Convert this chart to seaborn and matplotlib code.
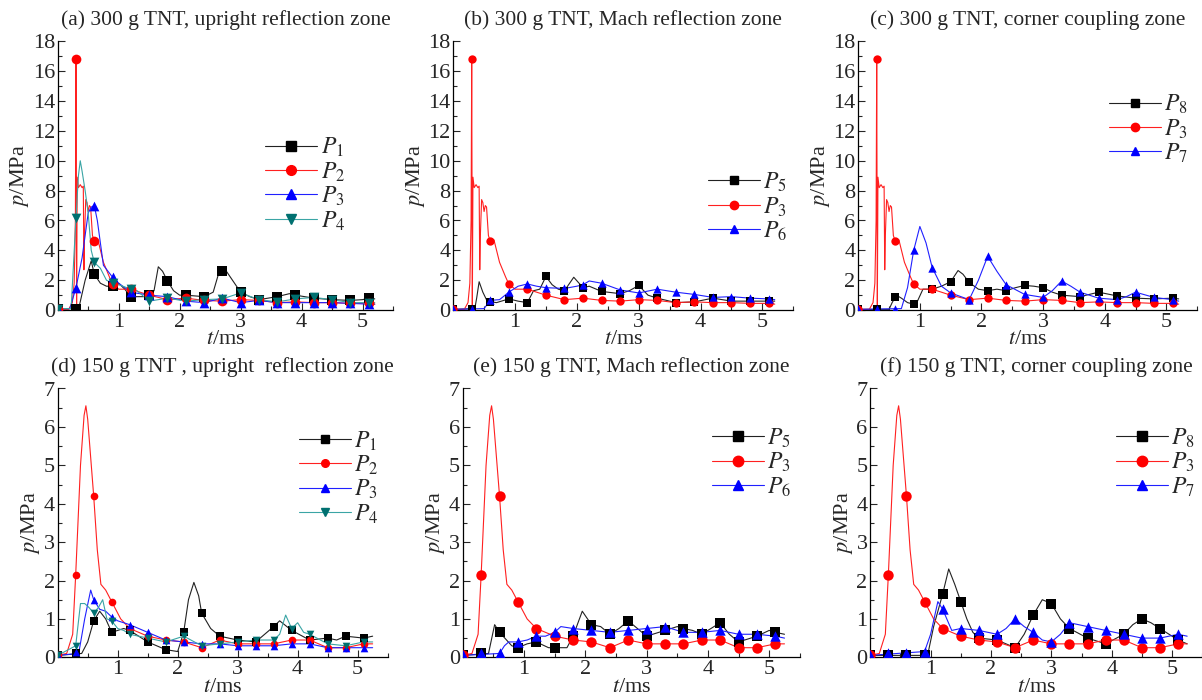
import matplotlib
matplotlib.use("Agg")

import seaborn as sns
import matplotlib.pyplot as plt
from matplotlib.lines import Line2D
from matplotlib.ticker import MultipleLocator


# =========================
# Data
# =========================

# marker times, ms
t_mark = [0.0, 0.3, 0.6, 0.9, 1.2, 1.5, 1.8, 2.1, 2.4, 2.7, 3.0, 3.3, 3.6, 3.9, 4.2, 4.5, 4.8, 5.1]

# ---- 300 g TNT ----
# red gauge (P2 in a, P3 in b/c)
red300_t = [0, 0.18, 0.24, 0.27, 0.29, 0.30, 0.31, 0.32, 0.34, 0.37, 0.40, 0.42, 0.43, 0.44, 0.46, 0.48,
            0.50, 0.52, 0.54, 0.57, 0.60, 0.66, 0.75, 0.85, 0.9, 1.0, 1.2, 1.5, 1.8, 2.1, 2.4, 2.7, 3.0,
            3.3, 3.6, 3.9, 4.2, 4.5, 4.8, 5.1, 5.2]
red300_p = [0.05, 0.05, 0.5, 1.8, 6.0, 16.8, 0.2, 8.9, 8.2, 8.4, 8.2, 8.3, 2.7, 5.0, 7.4, 7.2,
            6.6, 7.0, 6.9, 5.0, 4.6, 4.7, 3.2, 2.2, 1.75, 1.4, 1.4, 1.0, 0.7, 0.8, 0.65, 0.6, 0.7,
            0.65, 0.5, 0.55, 0.5, 0.5, 0.45, 0.45, 0.4]
red300_m = [0.05, 16.8, 4.6, 1.75, 1.4, 1.0, 0.7, 0.8, 0.65, 0.6, 0.7, 0.65, 0.5, 0.55, 0.5, 0.5, 0.45, 0.45]

a_p1_t = [0, 0.3, 0.35, 0.45, 0.55, 0.6, 0.7, 0.8, 0.9, 1.0, 1.1, 1.2, 1.4, 1.5, 1.58, 1.65, 1.72, 1.8,
          1.9, 2.0, 2.1, 2.4, 2.55, 2.65, 2.75, 2.9, 3.0, 3.15, 3.3, 3.6, 3.8, 3.9, 4.2, 4.5, 4.8, 5.0, 5.1, 5.2]
a_p1_p = [0.1, 0.1, 0.2, 2.0, 3.3, 2.4, 1.8, 1.6, 1.6, 1.8, 1.4, 0.9, 0.9, 1.0, 1.3, 2.9, 2.6, 1.95,
          1.3, 1.0, 1.0, 0.9, 1.2, 2.6, 2.7, 1.8, 1.2, 0.9, 0.7, 0.9, 1.1, 1.0, 0.8, 0.7, 0.65, 0.7, 0.8, 0.75]
a_p1_m = [0.1, 0.1, 2.4, 1.6, 0.9, 1.0, 1.95, 1.0, 0.9, 2.65, 1.2, 0.7, 0.9, 1.0, 0.8, 0.7, 0.65, 0.8]

a_p3_t = [0, 0.2, 0.3, 0.4, 0.5, 0.55, 0.6, 0.65, 0.75, 0.9, 1.0, 1.2, 1.5, 1.8, 2.1, 2.4, 2.7, 3.0,
          3.3, 3.6, 3.9, 4.2, 4.5, 4.8, 5.1, 5.2]
a_p3_p = [0.1, 0.1, 1.5, 3.5, 6.5, 6.9, 7.0, 6.0, 3.0, 2.2, 1.8, 1.2, 1.0, 0.9, 0.6, 0.5, 0.8, 0.5,
          0.65, 0.5, 0.5, 0.5, 0.5, 0.45, 0.4, 0.4]
a_p3_m = [0.1, 1.5, 7.0, 2.2, 1.2, 1.0, 0.9, 0.6, 0.5, 0.8, 0.5, 0.65, 0.5, 0.5, 0.5, 0.5, 0.45, 0.4]

a_p4_t = [0, 0.22, 0.3, 0.34, 0.37, 0.4, 0.45, 0.5, 0.55, 0.6, 0.7, 0.8, 0.9, 1.0, 1.2, 1.3, 1.5, 1.8,
          2.1, 2.4, 2.7, 3.0, 3.3, 3.6, 3.9, 4.2, 4.5, 4.8, 5.1, 5.2]
a_p4_p = [0.1, 0.1, 6.2, 9.0, 10.0, 9.3, 8.0, 6.5, 4.0, 3.2, 2.8, 2.0, 1.8, 1.7, 1.4, 1.3, 0.6, 0.8,
          0.6, 0.7, 0.75, 1.15, 0.7, 0.55, 0.75, 0.85, 0.7, 0.5, 0.5, 0.5]
a_p4_m = [0.1, 6.2, 3.2, 1.8, 1.4, 0.6, 0.8, 0.6, 0.7, 0.75, 1.15, 0.7, 0.55, 0.75, 0.85, 0.7, 0.5, 0.5]

b_p5_t = [0, 0.35, 0.38, 0.42, 0.48, 0.55, 0.7, 0.9, 1.05, 1.2, 1.3, 1.4, 1.5, 1.6, 1.7, 1.8, 1.95,
          2.1, 2.2, 2.4, 2.7, 2.85, 3.0, 3.15, 3.3, 3.6, 3.9, 4.2, 4.5, 4.8, 5.1, 5.2]
b_p5_p = [0.05, 0.1, 0.8, 1.9, 1.2, 0.6, 0.5, 0.75, 0.6, 0.5, 1.3, 1.4, 2.25, 1.7, 1.4, 1.3, 2.2,
          1.5, 1.6, 1.25, 1.1, 1.3, 1.65, 1.0, 0.8, 0.5, 0.55, 0.8, 0.6, 0.6, 0.6, 0.6]
b_p5_m = [0.05, 0.1, 0.57, 0.75, 0.5, 2.25, 1.3, 1.5, 1.25, 1.1, 1.65, 0.8, 0.5, 0.55, 0.8, 0.6, 0.6, 0.6]

b_p6_t = [0, 0.5, 0.6, 0.75, 0.9, 1.05, 1.2, 1.35, 1.5, 1.8, 2.0, 2.1, 2.2, 2.4, 2.7, 3.0, 3.3, 3.6,
          3.9, 4.2, 4.5, 4.8, 5.1, 5.2]
b_p6_p = [0.05, 0.1, 0.65, 0.7, 1.2, 1.6, 1.75, 1.6, 1.5, 1.45, 1.6, 1.7, 1.95, 1.8, 1.35, 1.15, 1.4, 1.2,
          1.05, 0.85, 0.9, 0.8, 0.75, 0.7]
b_p6_m = [0.05, 0.1, 0.65, 1.2, 1.75, 1.5, 1.45, 1.7, 1.8, 1.35, 1.15, 1.4, 1.2, 1.05, 0.85, 0.9, 0.8, 0.75]

c_p8_t = [0, 0.5, 0.55, 0.62, 0.7, 0.8, 0.9, 0.95, 1.05, 1.2, 1.35, 1.5, 1.62, 1.7, 1.8, 1.95, 2.1,
          2.25, 2.4, 2.55, 2.7, 2.85, 3.0, 3.15, 3.3, 3.6, 3.75, 3.9, 4.2, 4.5, 4.8, 5.1, 5.2]
c_p8_p = [0.05, 0.05, 0.5, 1.0, 0.8, 0.5, 0.4, 0.5, 1.4, 1.4, 1.6, 1.9, 2.65, 2.4, 1.85, 1.4, 1.3,
          1.4, 1.3, 1.5, 1.65, 1.6, 1.5, 1.2, 1.0, 0.9, 1.05, 1.2, 0.95, 0.8, 0.75, 0.8, 0.75]
c_p8_m = [0.05, 0.05, 0.85, 0.4, 1.4, 1.9, 1.85, 1.3, 1.3, 1.65, 1.5, 1.0, 0.9, 1.2, 0.95, 0.8, 0.75, 0.8]

c_p7_t = [0, 0.7, 0.8, 0.9, 1.0, 1.1, 1.2, 1.35, 1.5, 1.8, 1.95, 2.1, 2.25, 2.4, 2.7, 3.0, 3.15, 3.3,
          3.45, 3.6, 3.9, 4.2, 4.35, 4.5, 4.8, 5.1, 5.2]
c_p7_p = [0.05, 0.1, 1.5, 4.0, 5.6, 4.5, 2.85, 1.6, 1.15, 0.7, 2.0, 3.6, 2.6, 1.7, 1.05, 0.85, 1.3, 1.95,
          1.6, 1.2, 0.8, 0.7, 0.9, 1.2, 0.85, 0.7, 0.6]
c_p7_m = [0.05, 0.1, 0.1, 4.0, 2.85, 1.15, 0.7, 3.6, 1.7, 1.05, 0.85, 1.95, 1.2, 0.8, 0.7, 1.2, 0.85, 0.7]

# ---- 150 g TNT ----
# red gauge (P2 in d, P3 in e/f)
red150_t = [0, 0.15, 0.25, 0.3, 0.38, 0.44, 0.47, 0.5, 0.55, 0.6, 0.66, 0.72, 0.8, 0.9, 1.05, 1.2,
            1.5, 1.8, 2.1, 2.4, 2.7, 3.0, 3.3, 3.6, 3.9, 4.2, 4.5, 4.8, 5.1, 5.25]
red150_p = [0.05, 0.1, 0.6, 2.15, 5.0, 6.3, 6.55, 6.2, 5.2, 4.2, 2.8, 1.9, 1.75, 1.45, 1.0, 0.75,
            0.55, 0.45, 0.4, 0.25, 0.45, 0.35, 0.35, 0.35, 0.45, 0.45, 0.25, 0.25, 0.35, 0.35]
red150_m = [0.05, 2.15, 4.2, 1.45, 0.75, 0.55, 0.45, 0.4, 0.25, 0.45, 0.35, 0.35, 0.35, 0.45, 0.45, 0.25, 0.25, 0.35]

d_p1_t = [0, 0.4, 0.5, 0.6, 0.7, 0.8, 0.9, 1.0, 1.1, 1.2, 1.5, 1.8, 2.0, 2.1, 2.18, 2.27, 2.35, 2.4,
          2.55, 2.7, 3.0, 3.3, 3.6, 3.7, 3.9, 4.2, 4.5, 4.65, 4.8, 5.1, 5.25]
d_p1_p = [0.05, 0.1, 0.4, 0.95, 1.2, 1.0, 0.65, 0.7, 0.75, 0.7, 0.4, 0.2, 0.15, 0.65, 1.5, 1.95, 1.6, 1.15,
          0.75, 0.55, 0.45, 0.4, 0.8, 0.95, 0.7, 0.45, 0.5, 0.45, 0.55, 0.5, 0.55]
d_p1_m = [0.05, 0.1, 0.95, 0.65, 0.7, 0.4, 0.2, 0.65, 1.15, 0.55, 0.45, 0.4, 0.8, 0.7, 0.45, 0.5, 0.55, 0.5]

d_p3_t = [0, 0.35, 0.45, 0.55, 0.6, 0.7, 0.8, 0.9, 1.0, 1.2, 1.5, 1.8, 2.1, 2.4, 2.7, 3.0, 3.3, 3.6,
          3.9, 4.2, 4.5, 4.8, 5.1, 5.25]
d_p3_p = [0.05, 0.1, 1.0, 1.75, 1.5, 1.25, 1.2, 1.05, 0.95, 0.85, 0.65, 0.45, 0.4, 0.35, 0.35, 0.3, 0.3, 0.3,
          0.35, 0.35, 0.25, 0.25, 0.25, 0.25]
d_p3_m = [0.05, 0.15, 1.5, 1.05, 0.85, 0.65, 0.45, 0.4, 0.35, 0.35, 0.3, 0.3, 0.3, 0.35, 0.35, 0.25, 0.25, 0.25]

d_p4_t = [0, 0.3, 0.38, 0.45, 0.52, 0.6, 0.68, 0.75, 0.82, 0.9, 1.0, 1.1, 1.2, 1.5, 1.8, 2.1, 2.4, 2.7,
          3.0, 3.3, 3.6, 3.7, 3.8, 3.9, 4.0, 4.1, 4.2, 4.5, 4.8, 5.1, 5.25]
d_p4_p = [0.05, 0.3, 1.4, 1.4, 1.3, 1.15, 1.3, 1.5, 1.0, 0.95, 0.75, 0.7, 0.6, 0.5, 0.4, 0.55, 0.3, 0.35,
          0.4, 0.45, 0.45, 0.6, 1.1, 0.75, 0.9, 0.65, 0.6, 0.35, 0.3, 0.4, 0.4]
d_p4_m = [0.05, 0.3, 1.15, 0.95, 0.6, 0.5, 0.4, 0.55, 0.3, 0.35, 0.4, 0.45, 0.45, 0.75, 0.6, 0.35, 0.3, 0.4]

e_p5_t = [0, 0.42, 0.52, 0.6, 0.8, 0.9, 1.05, 1.2, 1.4, 1.7, 1.8, 1.95, 2.1, 2.25, 2.4, 2.55, 2.7,
          2.85, 3.0, 3.3, 3.5, 3.6, 3.75, 3.9, 4.2, 4.35, 4.5, 4.8, 5.0, 5.1, 5.25]
e_p5_p = [0.05, 0.1, 0.85, 0.65, 0.3, 0.25, 0.35, 0.4, 0.25, 0.25, 0.55, 1.2, 0.85, 0.8, 0.6, 0.75, 0.95,
          0.75, 0.55, 0.7, 0.8, 0.75, 0.7, 0.6, 0.9, 0.6, 0.4, 0.55, 0.7, 0.65, 0.6]
e_p5_m = [0.05, 0.1, 0.65, 0.25, 0.4, 0.25, 0.55, 0.85, 0.6, 0.95, 0.55, 0.7, 0.75, 0.6, 0.9, 0.4, 0.55, 0.65]

e_p6_t = [0, 0.6, 0.68, 0.75, 0.9, 1.05, 1.2, 1.35, 1.5, 1.6, 1.8, 2.1, 2.4, 2.7, 3.0, 3.3, 3.6, 3.9,
          4.2, 4.5, 4.8, 5.1, 5.25]
e_p6_p = [0.05, 0.1, 0.3, 0.4, 0.4, 0.45, 0.55, 0.55, 0.65, 0.8, 0.75, 0.7, 0.65, 0.7, 0.75, 0.8, 0.65, 0.65,
          0.7, 0.6, 0.6, 0.55, 0.5]
e_p6_m = [0.05, 0.1, 0.1, 0.4, 0.55, 0.65, 0.75, 0.7, 0.65, 0.7, 0.75, 0.8, 0.65, 0.65, 0.7, 0.6, 0.6, 0.55]

f_p8_t = [0, 0.95, 1.05, 1.2, 1.3, 1.4, 1.5, 1.6, 1.7, 1.8, 2.1, 2.4, 2.55, 2.7, 2.85, 3.0, 3.15, 3.3,
          3.6, 3.9, 4.2, 4.35, 4.5, 4.65, 4.8, 5.1, 5.25]
f_p8_p = [0.05, 0.05, 0.8, 1.65, 2.3, 1.9, 1.45, 1.0, 0.65, 0.5, 0.45, 0.25, 0.6, 1.1, 1.5, 1.4, 1.0, 0.75,
          0.5, 0.35, 0.6, 0.85, 1.0, 0.9, 0.75, 0.45, 0.35]
f_p8_m = [0.05, 0.05, 0.05, 0.05, 1.65, 1.45, 0.5, 0.45, 0.25, 1.1, 1.4, 0.75, 0.5, 0.35, 0.6, 1.0, 0.75, 0.45]

f_p7_t = [0, 0.9, 1.0, 1.12, 1.2, 1.35, 1.5, 1.8, 2.1, 2.25, 2.4, 2.55, 2.7, 2.85, 3.0, 3.15, 3.3, 3.6,
          3.9, 4.2, 4.5, 4.8, 5.1, 5.25]
f_p7_p = [0.05, 0.15, 0.6, 1.45, 1.25, 0.7, 0.75, 0.7, 0.6, 0.75, 1.0, 0.8, 0.65, 0.45, 0.4, 0.6, 0.9, 0.8,
          0.7, 0.6, 0.5, 0.5, 0.6, 0.55]
f_p7_m = [0.05, 0.1, 0.1, 0.15, 1.25, 0.75, 0.7, 0.6, 1.0, 0.65, 0.4, 0.9, 0.8, 0.7, 0.6, 0.5, 0.5, 0.6]

titles = [
    "(a) 300 g TNT, upright reflection zone",
    "(b) 300 g TNT, Mach reflection zone",
    "(c) 300 g TNT, corner coupling zone",
    "(d) 150 g TNT , upright  reflection zone",
    "(e) 150 g TNT, Mach reflection zone",
    "(f) 150 g TNT, corner coupling zone",
]


# =========================
# Style
# =========================

sns.set_theme(style="ticks")
plt.rcParams["font.family"] = ["Liberation Serif", "DejaVu Serif"]
plt.rcParams["mathtext.fontset"] = "stix"

# (line colour, marker colour, marker)
STY = {
    "k": ("#222222", "#000000", "s"),
    "r": ("#ff2020", "#ff0000", "o"),
    "b": ("#2020ff", "#0000ff", "^"),
    "g": ("#3aa5a5", "#007070", "v"),
}

fig = plt.figure(figsize=(12.02, 7.0), dpi=100)

boxes = [
    [0.048, 0.557, 0.279, 0.384],
    [0.377, 0.557, 0.283, 0.384],
    [0.714, 0.557, 0.282, 0.384],
    [0.048, 0.061, 0.2745, 0.384],
    [0.385, 0.061, 0.2804, 0.384],
    [0.724, 0.061, 0.2762, 0.384],
]

panels = [
    [("$P_1$", "k", a_p1_t, a_p1_p, a_p1_m), ("$P_2$", "r", red300_t, red300_p, red300_m),
     ("$P_3$", "b", a_p3_t, a_p3_p, a_p3_m), ("$P_4$", "g", a_p4_t, a_p4_p, a_p4_m)],
    [("$P_5$", "k", b_p5_t, b_p5_p, b_p5_m), ("$P_3$", "r", red300_t, red300_p, red300_m),
     ("$P_6$", "b", b_p6_t, b_p6_p, b_p6_m)],
    [("$P_8$", "k", c_p8_t, c_p8_p, c_p8_m), ("$P_3$", "r", red300_t, red300_p, red300_m),
     ("$P_7$", "b", c_p7_t, c_p7_p, c_p7_m)],
    [("$P_1$", "k", d_p1_t, d_p1_p, d_p1_m), ("$P_2$", "r", red150_t, red150_p, red150_m),
     ("$P_3$", "b", d_p3_t, d_p3_p, d_p3_m), ("$P_4$", "g", d_p4_t, d_p4_p, d_p4_m)],
    [("$P_5$", "k", e_p5_t, e_p5_p, e_p5_m), ("$P_3$", "r", red150_t, red150_p, red150_m),
     ("$P_6$", "b", e_p6_t, e_p6_p, e_p6_m)],
    [("$P_8$", "k", f_p8_t, f_p8_p, f_p8_m), ("$P_3$", "r", red150_t, red150_p, red150_m),
     ("$P_7$", "b", f_p7_t, f_p7_p, f_p7_m)],
]

marker_size = [7, 6, 6, 5.5, 7.5, 7.5]
legend_anchor = [(0.57, 0.71), (0.70, 0.58), (0.69, 0.87), (0.68, 0.91), (0.69, 0.92), (0.69, 0.92)]

for i, (box, series) in enumerate(zip(boxes, panels)):
    ax = fig.add_axes(box)
    ms = marker_size[i]
    handles = []
    for label, key, t, p, m in series:
        lc, mc, mk = STY[key]
        sns.lineplot(x=t, y=p, ax=ax, color=lc, lw=0.8, estimator=None, sort=False)
        sns.scatterplot(x=t_mark, y=m, ax=ax, color=mc, marker=mk, s=ms ** 2,
                        edgecolor=mc, linewidth=0, zorder=3)
        handles.append(Line2D([], [], color=lc, lw=0.8, marker=mk, ms=ms,
                              mfc=mc, mec=mc, label=label))

    top = 18 if i < 3 else 7
    ax.set_xlim(0, 5.5)
    ax.set_ylim(0, top)
    ax.set_xticks([1, 2, 3, 4, 5])
    ax.xaxis.set_minor_locator(MultipleLocator(0.5))
    ax.yaxis.set_major_locator(MultipleLocator(2 if i < 3 else 1))
    ax.yaxis.set_minor_locator(MultipleLocator(1 if i < 3 else 0.5))
    ax.tick_params(which="both", direction="in", labelsize=16, pad=2)
    ax.tick_params(which="major", length=5, width=0.8)
    ax.tick_params(which="minor", length=3, width=0.8)
    for s in ["top", "right"]:
        ax.spines[s].set_visible(False)
    for s in ["left", "bottom"]:
        ax.spines[s].set_linewidth(0.9)
        ax.spines[s].set_color("black")

    ax.set_xlabel("$t$/ms", fontsize=16, labelpad=-1)
    ax.set_ylabel("$p$/MPa", fontsize=16, labelpad=1)
    ax.set_title(titles[i], fontsize=15.5, pad=12)

    ax.legend(handles=handles, loc="upper left", bbox_to_anchor=legend_anchor[i],
              frameon=False, fontsize=17, handlelength=2.2, handletextpad=0.15,
              labelspacing=0.05, borderpad=0.2)

fig.savefig("out.png", dpi=100)
